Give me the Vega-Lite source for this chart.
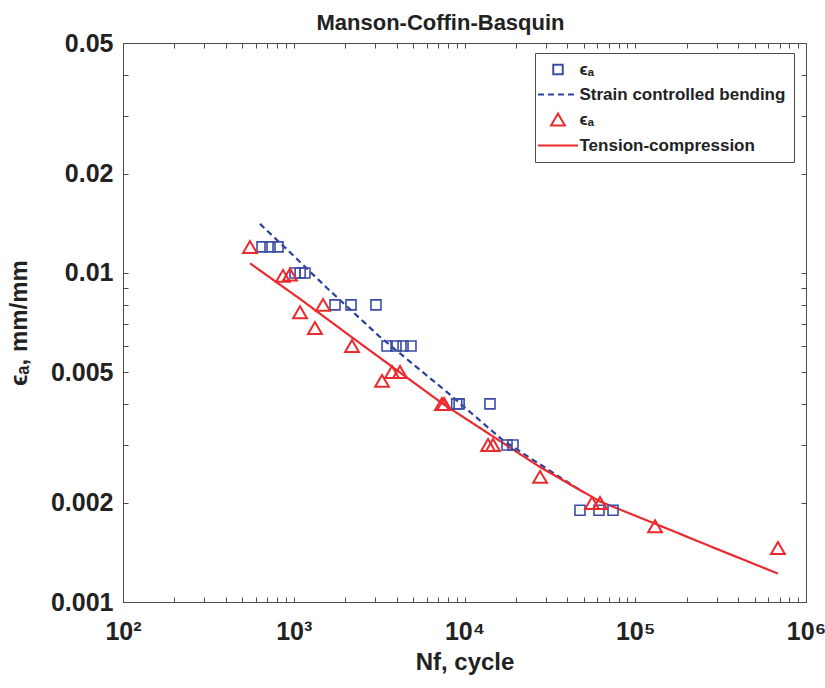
{
  "$schema": "https://vega.github.io/schema/vega-lite/v6.json",
  "width": 683,
  "height": 559,
  "autosize": "none",
  "padding": {"left": 123, "top": 43, "right": 19, "bottom": 86},
  "background": "white",
  "view": {"stroke": "#4d4d4d", "strokeWidth": 1},
  "title": {"text": "Manson-Coffin-Basquin", "font": "Liberation Sans", "fontSize": 22, "fontWeight": "bold", "color": "#222222", "dx": -24, "offset": -4},
  "config": {"font": "Liberation Sans"},
  "data": {
    "values": [
      {"N": 652, "ea": 0.012, "series": "b_pts"},
      {"N": 726, "ea": 0.012, "series": "b_pts"},
      {"N": 809, "ea": 0.012, "series": "b_pts"},
      {"N": 1017, "ea": 0.01, "series": "b_pts"},
      {"N": 1090, "ea": 0.01, "series": "b_pts"},
      {"N": 1163, "ea": 0.01, "series": "b_pts"},
      {"N": 1745, "ea": 0.008, "series": "b_pts"},
      {"N": 2165, "ea": 0.008, "series": "b_pts"},
      {"N": 3030, "ea": 0.008, "series": "b_pts"},
      {"N": 3520, "ea": 0.006, "series": "b_pts"},
      {"N": 3970, "ea": 0.006, "series": "b_pts"},
      {"N": 4365, "ea": 0.006, "series": "b_pts"},
      {"N": 4860, "ea": 0.006, "series": "b_pts"},
      {"N": 9000, "ea": 0.004, "series": "b_pts"},
      {"N": 9300, "ea": 0.004, "series": "b_pts"},
      {"N": 14100, "ea": 0.004, "series": "b_pts"},
      {"N": 17740, "ea": 0.003, "series": "b_pts"},
      {"N": 19230, "ea": 0.003, "series": "b_pts"},
      {"N": 47450, "ea": 0.0019, "series": "b_pts"},
      {"N": 61300, "ea": 0.0019, "series": "b_pts"},
      {"N": 74100, "ea": 0.0019, "series": "b_pts"},
      {"N": 554, "ea": 0.012, "series": "t_pts"},
      {"N": 865, "ea": 0.0098, "series": "t_pts"},
      {"N": 951, "ea": 0.0099, "series": "t_pts"},
      {"N": 1484, "ea": 0.008, "series": "t_pts"},
      {"N": 1088, "ea": 0.0076, "series": "t_pts"},
      {"N": 1331, "ea": 0.0068, "series": "t_pts"},
      {"N": 2193, "ea": 0.006, "series": "t_pts"},
      {"N": 3760, "ea": 0.005, "series": "t_pts"},
      {"N": 4190, "ea": 0.005, "series": "t_pts"},
      {"N": 3288, "ea": 0.0047, "series": "t_pts"},
      {"N": 7380, "ea": 0.004, "series": "t_pts"},
      {"N": 7600, "ea": 0.004, "series": "t_pts"},
      {"N": 13740, "ea": 0.003, "series": "t_pts"},
      {"N": 14690, "ea": 0.003, "series": "t_pts"},
      {"N": 27700, "ea": 0.0024, "series": "t_pts"},
      {"N": 55800, "ea": 0.002, "series": "t_pts"},
      {"N": 62200, "ea": 0.002, "series": "t_pts"},
      {"N": 130600, "ea": 0.0017, "series": "t_pts"},
      {"N": 685000, "ea": 0.00146, "series": "t_pts"},
      {"N": 634, "ea": 0.0141, "series": "b_fit"},
      {"N": 1000, "ea": 0.01127, "series": "b_fit"},
      {"N": 1566, "ea": 0.009, "series": "b_fit"},
      {"N": 3200, "ea": 0.00639, "series": "b_fit"},
      {"N": 8000, "ea": 0.00432, "series": "b_fit"},
      {"N": 16800, "ea": 0.0031, "series": "b_fit"},
      {"N": 30000, "ea": 0.00255, "series": "b_fit"},
      {"N": 49400, "ea": 0.00216, "series": "b_fit"},
      {"N": 554, "ea": 0.0107, "series": "t_fit"},
      {"N": 1088, "ea": 0.00834, "series": "t_fit"},
      {"N": 2223, "ea": 0.00634, "series": "t_fit"},
      {"N": 7380, "ea": 0.00402, "series": "t_fit"},
      {"N": 27700, "ea": 0.00257, "series": "t_fit"},
      {"N": 62200, "ea": 0.00202, "series": "t_fit"},
      {"N": 130600, "ea": 0.00173, "series": "t_fit"},
      {"N": 300000, "ea": 0.00145, "series": "t_fit"},
      {"N": 685000, "ea": 0.00122, "series": "t_fit"}
    ]
  },
  "layer": [
    {
      "transform": [{"filter": "datum.series == 'b_fit' || datum.series == 't_fit'"}],
      "mark": {"type": "line", "strokeWidth": 2.2},
      "encoding": {
        "x": {
          "field": "N", "type": "quantitative",
          "scale": {"type": "log", "domain": [100, 1000000], "nice": false},
          "axis": {
            "orient": "bottom",
            "values": [100,200,300,400,500,600,700,800,900,1000,2000,3000,4000,5000,6000,7000,8000,9000,10000,20000,30000,40000,50000,60000,70000,80000,90000,100000,200000,300000,400000,500000,600000,700000,800000,900000,1000000],
            "labelExpr": "abs(log(datum.value)/LN10 - round(log(datum.value)/LN10)) < 0.001 ? '10' + ['⁰','¹','²','³','⁴','⁵','⁶'][round(log(datum.value)/LN10)] : ''",
            "title": "Nf, cycle",
            "titleFont": "Liberation Sans", "titleFontSize": 24, "titleFontWeight": "bold", "titleColor": "#222222", "titlePadding": 6,
            "labelFont": "Liberation Sans", "labelFontSize": 25, "labelFontWeight": "bold", "labelColor": "#222222",
            "labelPadding": 22, "labelOverlap": false, "labelFlush": false,
            "tickSize": -5, "tickColor": "#4d4d4d", "domainColor": "#4d4d4d", "grid": false,
            "encode": {"ticks": {"update": {"y2": {"signal": "abs(log(datum.value)/LN10 - round(log(datum.value)/LN10)) < 0.001 ? -7 : -4"}}}}
          }
        },
        "y": {
          "field": "ea", "type": "quantitative",
          "scale": {"type": "log", "domain": [0.001, 0.05], "nice": false},
          "axis": {
            "orient": "left",
            "values": [0.001,0.002,0.003,0.004,0.005,0.006,0.007,0.008,0.009,0.01,0.02,0.03,0.04,0.05],
            "labelExpr": "indexof([0.001,0.002,0.005,0.01,0.02,0.05], datum.value) >= 0 ? '' + datum.value : ''",
            "title": "ϵₐ, mm/mm",
            "titleFont": "Liberation Sans", "titleFontSize": 24, "titleFontWeight": "bold", "titleColor": "#222222", "titlePadding": 19,
            "labelFont": "Liberation Sans", "labelFontSize": 25, "labelFontWeight": "bold", "labelColor": "#222222",
            "labelPadding": 15, "labelOverlap": false, "labelFlush": false,
            "tickSize": -5, "tickColor": "#4d4d4d", "domainColor": "#4d4d4d", "grid": false,
            "encode": {"ticks": {"update": {"x2": {"signal": "indexof([0.001,0.002,0.005,0.01,0.02,0.05], datum.value) >= 0 ? 6 : 3"}}}}
          }
        },
        "color": {
          "field": "series", "type": "nominal",
          "scale": {"domain": ["b_pts", "b_fit", "t_pts", "t_fit"], "range": ["#3a4ca6", "#2d3f9c", "#ec2a2e", "#ec2a2e"]},
          "legend": {
            "orient": "none", "legendX": 412, "legendY": 10, "title": null,
            "labelExpr": "datum.value == 'b_fit' ? 'Strain controlled bending' : datum.value == 't_fit' ? 'Tension-compression' : 'ϵₐ'",
            "labelFont": "Liberation Sans", "labelFontSize": 17, "labelFontWeight": "bold", "labelColor": "#222222", "labelLimit": 400,
            "strokeColor": "#4d4d4d", "fillColor": "white", "padding": 8, "rowPadding": 6,
            "symbolSize": 100, "symbolStrokeWidth": 2, "symbolOffset": 6.5, "labelOffset": 13,
            "encode": {
              "symbols": {
                "update": {
                  "shape": {"signal": "datum.value == 'b_pts' ? 'square' : datum.value == 't_pts' ? 'triangle-up' : 'M-4,0H4'"},
                  "size": {"signal": "datum.value == 'b_pts' ? 90 : datum.value == 't_pts' ? 190 : 100"},
                  "strokeDash": {"signal": "datum.value == 'b_fit' ? [6, 4] : [1, 0]"},
                  "fill": {"value": "transparent"}
                }
              }
            }
          }
        },
        "strokeDash": {
          "field": "series", "type": "nominal",
          "scale": {"domain": ["b_pts", "b_fit", "t_pts", "t_fit"], "range": [[1, 0], [6, 4], [1, 0], [1, 0]]},
          "legend": null
        }
      }
    },
    {
      "transform": [{"filter": "datum.series == 'b_pts'"}],
      "mark": {"type": "point", "shape": "square", "size": 100, "filled": false, "strokeWidth": 1.6, "opacity": 1},
      "encoding": {
        "x": {
          "field": "N", "type": "quantitative",
          "scale": {"type": "log", "domain": [100, 1000000], "nice": false},
          "axis": {
            "orient": "top",
            "values": [100,200,300,400,500,600,700,800,900,1000,2000,3000,4000,5000,6000,7000,8000,9000,10000,20000,30000,40000,50000,60000,70000,80000,90000,100000,200000,300000,400000,500000,600000,700000,800000,900000,1000000],
            "labels": false, "title": null, "tickSize": -5, "tickColor": "#4d4d4d", "domainColor": "#4d4d4d", "grid": false,
            "encode": {"ticks": {"update": {"y2": {"signal": "abs(log(datum.value)/LN10 - round(log(datum.value)/LN10)) < 0.001 ? 7 : 4"}}}}
          }
        },
        "y": {
          "field": "ea", "type": "quantitative",
          "scale": {"type": "log", "domain": [0.001, 0.05], "nice": false},
          "axis": {
            "orient": "right",
            "values": [0.001,0.002,0.003,0.004,0.005,0.006,0.007,0.008,0.009,0.01,0.02,0.03,0.04,0.05],
            "labels": false, "title": null, "tickSize": -5, "tickColor": "#4d4d4d", "domainColor": "#4d4d4d", "grid": false,
            "encode": {"ticks": {"update": {"x2": {"signal": "indexof([0.001,0.002,0.005,0.01,0.02,0.05], datum.value) >= 0 ? -6 : -3"}}}}
          }
        },
        "color": {"field": "series", "type": "nominal"}
      }
    },
    {
      "transform": [{"filter": "datum.series == 't_pts'"}],
      "mark": {"type": "point", "shape": "triangle-up", "size": 190, "filled": false, "strokeWidth": 2, "opacity": 1},
      "encoding": {
        "x": {"field": "N", "type": "quantitative", "axis": null},
        "y": {"field": "ea", "type": "quantitative", "axis": null},
        "color": {"field": "series", "type": "nominal"}
      }
    }
  ],
  "resolve": {"axis": {"x": "independent", "y": "independent"}}
}
